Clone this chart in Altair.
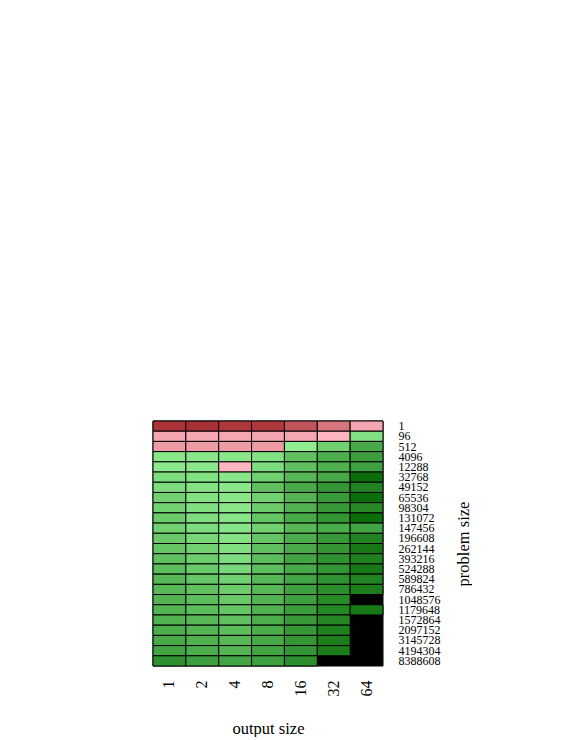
import altair as alt
import pandas as pd

problem_sizes = ["1", "96", "512", "4096", "12288", "32768", "49152", "65536",
                 "98304", "131072", "147456", "196608", "262144", "393216",
                 "524288", "589824", "786432", "1048576", "1179648", "1572864",
                 "2097152", "3145728", "4194304", "8388608"]
output_sizes = ["1", "2", "4", "8", "16", "32", "64"]

# estimated speedup per cell (None = no result, drawn black)
speedup_out1 = [0.26, 0.80, 0.73, 1.15, 1.10, 1.45, 1.45, 1.8, 1.8, 2.0, 1.8, 2.1,
                2.3, 2.5, 2.7, 3.0, 3.0, 3.2, 3.2, 3.4, 3.7, 4.0, 4.4, 6.5]
speedup_out2 = [0.25, 0.82, 0.73, 1.15, 1.10, 1.3, 1.3, 1.3, 1.35, 1.4, 1.45, 1.6,
                1.8, 2.0, 2.1, 2.3, 2.5, 2.7, 2.7, 3.0, 3.2, 3.4, 3.7, 5.0]
speedup_out4 = [0.27, 0.82, 0.73, 1.15, 0.95, 1.15, 1.15, 1.15, 1.15, 1.2, 1.2, 1.25,
                1.35, 1.45, 1.6, 1.8, 2.0, 2.1, 2.3, 2.5, 2.7, 3.0, 3.2, 4.4]
speedup_out8 = [0.27, 0.80, 0.73, 1.3, 1.45, 1.8, 2.5, 1.8, 2.0, 2.3, 1.8, 2.3,
                2.5, 2.7, 2.7, 3.0, 3.0, 3.2, 3.4, 3.7, 3.8, 4.0, 4.4, 4.8]
speedup_out16 = [0.36, 0.82, 1.02, 2.5, 2.5, 3.0, 4.0, 3.2, 3.4, 4.0, 3.0, 3.7,
                 4.0, 4.4, 4.0, 4.4, 4.8, 4.8, 5.2, 5.5, 5.7, 6.0, 6.0, 7.0]
speedup_out32 = [0.5, 0.95, 1.8, 3.6, 3.5, 4.0, 6.0, 5.5, 5.5, 6.0, 3.8, 5.5,
                 6.0, 6.5, 6.0, 6.5, 7.0, 7.5, 8.0, 8.0, 9.0, 9.5, 9.5, None]
speedup_out64 = [0.82, 1.3, 4.0, 5.0, 4.8, 13.0, 8.5, 13.0, 7.5, 13.0, 4.4, 8.5,
                 10.5, 9.0, 10.5, 8.5, 9.5, None, 10.5, None, None, None, None, None]

columns = [speedup_out1, speedup_out2, speedup_out4, speedup_out8,
           speedup_out16, speedup_out32, speedup_out64]

records = []
for out, col in zip(output_sizes, columns):
    for p, v in zip(problem_sizes, col):
        records.append({"output": out, "problem": p, "speedup": v})
df = pd.DataFrame(records)

FONT = "Liberation Serif"

x_enc = alt.X(
    "output:O", sort=output_sizes,
    scale=alt.Scale(paddingInner=0, paddingOuter=0),
    axis=alt.Axis(title="output size", orient="bottom", labelAngle=270,
                  labelAlign="right", labelBaseline="middle",
                  ticks=False, domain=False, labelPadding=14,
                  labelFont=FONT, labelFontSize=16, labelColor="black",
                  titleFont=FONT, titleFontSize=16.5, titleFontWeight="normal",
                  titleColor="black", titleY=67, titleBaseline="alphabetic"),
)
y_enc = alt.Y(
    "problem:O", sort=problem_sizes,
    scale=alt.Scale(paddingInner=0, paddingOuter=0),
    axis=alt.Axis(title="problem size", orient="right", ticks=False, domain=False,
                  labelPadding=15, labelAlign="left", labelBaseline="middle",
                  labelOverlap=False, labelFont=FONT, labelFontSize=12,
                  labelColor="black",
                  titleFont=FONT, titleFontSize=16.5, titleFontWeight="normal",
                  titleColor="black", titleAngle=270, titleX=80, titleY=122.5,
                  titleBaseline="middle", titleAlign="center"),
)

base = alt.Chart(df).encode(x=x_enc, y=y_enc)

background = base.mark_rect(fill="black", stroke="black", strokeWidth=1)

cells = base.transform_filter("isValid(datum.speedup)").mark_rect(
    stroke="black", strokeWidth=1
).encode(
    color=alt.Color(
        "speedup:Q",
        scale=alt.Scale(type="log", domain=[0.25, 0.95, 1.0, 16],
                        range=["#a82f33", "#ffb6c1", "#90ee90", "#006400"],
                        interpolate="rgb", clamp=True),
        legend=None,
    )
)

chart = alt.layer(background, cells).properties(
    width=230, height=245,
    padding={"left": 144, "top": 411, "right": 0, "bottom": 0},
    background="white",
).configure_view(stroke=None)

chart.save("out.html", embed_options={"renderer": "svg", "actions": False})
